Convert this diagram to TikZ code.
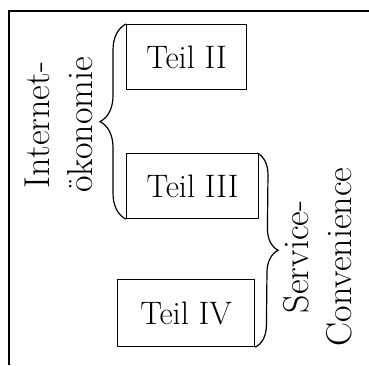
\documentclass[tikz,border=0pt]{standalone}
\usetikzlibrary{decorations.pathreplacing}
\tikzset{
  teilbox/.style={draw, line width=1.2pt, inner sep=0pt, anchor=north west,
    font=\fontsize{32.5}{38}\selectfont},
  bracelabel/.style={rotate=90, align=center, inner sep=0pt,
    font=\fontsize{36}{43}\selectfont},
  bracepath/.style={line width=1.2pt, decorate, decoration={brace, amplitude=#1}}
}
\begin{document}
\begin{tikzpicture}[x=1pt, y=-1pt]
  \useasboundingbox (0,0) rectangle (369,365);
  % outer frame, open to the right and bottom
  \draw[line width=1.4pt] (369,11) -- (9,11) -- (9,365);
  % parts
  \node[teilbox, minimum width=120pt, minimum height=65pt] (t2) at (126,24) {Teil II};
  \node[teilbox, minimum width=132pt, minimum height=65pt] (t3) at (126,153) {Teil III};
  \node[teilbox, minimum width=137pt, minimum height=67pt] (t4) at (117,279) {Teil IV};
  % grouping braces
  \draw[bracepath=26pt] (t3.south west) -- (t2.north west);
  \draw[bracepath=22pt] ([xshift=-2pt]t3.north east) -- (t4.south east);
  % group labels
  \node[bracelabel] (lab1) at (59,125) {Internet-\\\"okonomie};
  \node[bracelabel] (lab2) at (318,257) {Service-\\Convenience};
\end{tikzpicture}
\end{document}
